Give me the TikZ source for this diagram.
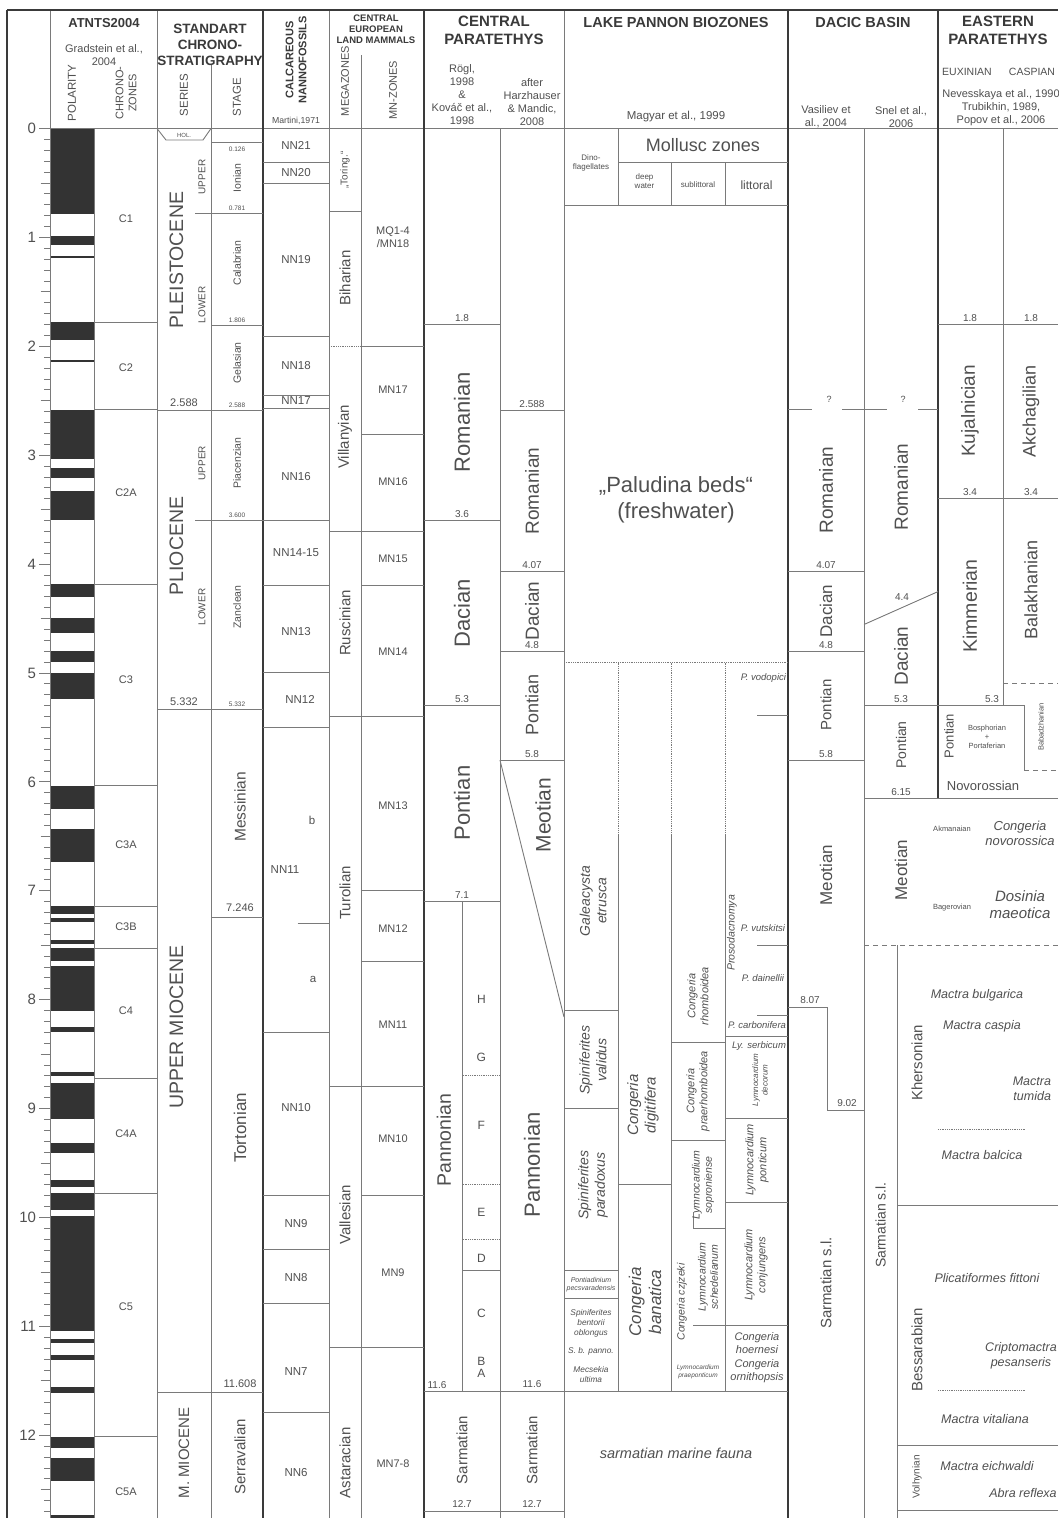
\documentclass[tikz,border=0pt]{standalone}
\usepackage{fontspec}
\setmainfont{Liberation Sans}
\definecolor{lc}{HTML}{7A7A7A}
\definecolor{tk}{HTML}{3A3A3A}
\definecolor{tc}{HTML}{505050}
\definecolor{bar}{HTML}{333333}
\newcommand\fs[1]{\fontsize{#1pt}{\fpeval{1.18*#1}pt}\selectfont}
\newcommand\Y[1]{128.5+108.9*#1}
\newcount\ndc
\begin{document}
\begin{tikzpicture}[x=1pt,y=-1pt,
 every node/.append style={/utils/exec={\global\advance\ndc by 1},name=n\the\ndc},
 ln/.style={draw=lc,line width=0.9pt},
 lnk/.style={draw=tk,line width=2.4pt},
 dotl/.style={draw=lc,line width=0.8pt,dash pattern=on 0.7pt off 1.1pt},
 dashl/.style={draw=lc,line width=1pt,dash pattern=on 5pt off 4pt},
 tx/.style={text=tc,inner sep=0pt,outer sep=0pt,align=center},
 fz/.style={tx,font=\fs{#1}},
 fzi/.style={tx,font=\fs{#1}\itshape},
 fzb/.style={tx,font=\fs{#1}\bfseries,text=tk},
 num/.style={fz=10,anchor=base},
 rot/.style={rotate=90}]
\useasboundingbox (0,0) rectangle (1058,1518);
\clip (0,0) rectangle (1058,1518);
\fill[white] (0,0) rectangle (1058,1518);

% ---------------- polarity
\foreach \a/\b in {0/0.781,0.988/1.072,1.173/1.185,1.778/1.945,2.128/2.148,2.581/3.032,3.116/3.207,3.330/3.596,4.187/4.300,4.493/4.631,4.799/4.896,4.997/5.235,6.033/6.252,6.436/6.733,7.140/7.212,7.251/7.285,7.454/7.489,7.528/7.642,7.695/8.108,8.254/8.300,8.661/8.699,8.769/9.098,9.312/9.409,9.656/9.717,9.779/9.934,9.987/11.040,11.118/11.154,11.263/11.308,11.554/11.614,12.014/12.116,12.207/12.415,12.730/12.765}
  \fill[bar] (50.7,\Y{\a}) rectangle (94,\Y{\b});

% ---------------- axis ticks
\foreach \k in {1,...,129} {\pgfmathsetmacro\yy{128.5+10.89*\k}\draw[ln] (44,\yy) -- (50.7,\yy);}
\foreach \h in {0.5,1.5,...,12.5} \draw[ln] (40.5,\Y{\h}) -- (50.7,\Y{\h});
\foreach \k in {0,...,12} {\draw[ln] (39,\Y{\k}) -- (50.7,\Y{\k});
  \node[fz=15,anchor=east] at (36,\Y{\k}) {\k};}

% ---------------- frame and columns
\draw[ln] (39,128.5) -- (1058,128.5);
\draw[ln] (50.7,10) -- (50.7,1518);
\draw[ln] (94,128.5) -- (94,1518);
\draw[ln] (157,10) -- (157,1518);
\draw[ln] (211,65) -- (211,1518);
\draw[ln] (329,10) -- (329,1518);
\draw[ln] (361,55) -- (361,1518);
\draw[ln] (462.7,\Y{7.1}) -- (462.7,\Y{11.6});
\draw[ln] (500,128.5) -- (500,1518);
\draw[ln] (564,10) -- (564,1518);
\draw[ln] (864,128.5) -- (864,1518);
\draw[draw=tk,line width=1.3pt] (938,10) -- (938,\Y{6.15});
\draw[ln] (1003,128.5) -- (1003,\Y{5.3});
\draw[ln] (897,945) -- (897,1518);
\draw[lnk] (263,10) -- (263,1518);
\draw[lnk] (424,10) -- (424,1518);
\draw[lnk] (788,10) -- (788,1518);
\draw[lnk] (7,10) -- (1058,10);
\draw[lnk] (7,10) -- (7,1518);

% ---------------- chronozones
\foreach \t in {1.778,2.581,4.187,6.033,7.140,7.528,8.72,9.779,12.014} \draw[ln] (94,\Y{\t}) -- (157,\Y{\t});
% ---------------- chronostratigraphy
\draw[ln] (157,128.5) -- (166,140) -- (203,140) -- (211,128.5);
\foreach \t in {2.588,5.332,11.608} \draw[ln] (157,\Y{\t}) -- (263,\Y{\t});
\foreach \t in {0.781,3.600} \draw[ln] (195,\Y{\t}) -- (263,\Y{\t});
\foreach \t in {0.126,1.806,7.246} \draw[ln] (211,\Y{\t}) -- (263,\Y{\t});
% ---------------- nannofossils
\foreach \y in {162,183.3,336,395,408,520,585,672.7,727,1032.3,1195,1249.3,1303.3,1412.3} \draw[ln] (263,\y) -- (329,\y);
\draw[ln] (297.7,923.3) -- (329,923.3);
% ---------------- mammals
\foreach \y in {211,531,716,1086,1347.3} \draw[ln] (329,\y) -- (361,\y);
\draw[dotl] (329,346.7) -- (361,346.7);
\foreach \y in {346.7,434,531,585.7,716,890.7,961,1086,1195,1347.3} \draw[ln] (361,\y) -- (424,\y);

% ---------------- central paratethys
\foreach \t in {1.8,3.6,5.3,7.1} \draw[ln] (424,\Y{\t}) -- (500,\Y{\t});
\foreach \t in {2.588,4.07,4.8,5.8} \draw[ln] (500,\Y{\t}) -- (564,\Y{\t});
\draw[ln] (424,\Y{11.6}) -- (788,\Y{11.6});
\draw[ln] (424,\Y{12.7}) -- (564,\Y{12.7});
\draw[ln] (500,\Y{5.8}) -- (564,1017);
\foreach \y in {1075,1184,1239} \draw[dotl] (462.7,\y) -- (500,\y);
\draw[ln] (462.7,1270.7) -- (500,1270.7);

% ---------------- lake pannon
\draw[ln] (618,128.5) -- (618,205.7);
\draw[ln] (618,162.3) -- (788,162.3);
\draw[ln] (671,162.3) -- (671,205.7);
\draw[ln] (725,162.3) -- (725,205.7);
\draw[ln] (564,205.7) -- (788,205.7);
\draw[dotl] (564,662.5) -- (788,662.5);
\foreach \x in {618,671,725} {\draw[dotl] (\x,662.5) -- (\x,835); \draw[ln] (\x,835) -- (\x,\Y{11.6});}
\foreach \y in {1010,1108.3,1270.7,1298.3} \draw[ln] (564,\y) -- (618,\y);
\draw[ln] (618,1184) -- (671,1184);
\draw[ln] (671,1042.3) -- (725,1042.3);
\draw[ln] (671,1140) -- (725,1140);
\draw[ln] (693,1212) -- (693,1228) -- (725,1228);
\draw[ln] (693,1325.7) -- (788,1325.7);
\foreach \y in {715.5,945,1015} \draw[ln] (757,\y) -- (788,\y);
\foreach \y in {1036,1118.3,1202.7} \draw[ln] (725,\y) -- (788,\y);

% ---------------- dacic basin
\draw[ln] (788,409.6) -- (812,409.6);
\draw[ln] (842,409.6) -- (887,409.6);
\draw[ln] (918,409.6) -- (938,409.6);
\foreach \t in {4.07,4.8,5.8} \draw[ln] (788,\Y{\t}) -- (864,\Y{\t});
\draw[ln] (788,\Y{8.07}) -- (827,\Y{8.07}) -- (827,\Y{9.02}) -- (864,\Y{9.02});
\draw[ln] (864,624.5) -- (938,591.6);
\draw[ln] (864,\Y{5.3}) -- (1024,\Y{5.3}) -- (1024,770);
\draw[dashl] (1024,770) -- (1058,770);
\draw[dashl] (1003,683.5) -- (1058,683.5);
\draw[ln] (864,\Y{6.15}) -- (1058,\Y{6.15});
\foreach \t in {1.8,3.4} \draw[ln] (938,\Y{\t}) -- (1058,\Y{\t});
\draw[dashl] (864,945) -- (1058,945);
\foreach \y in {1205,1445,1510} \draw[ln] (897,\y) -- (1058,\y);
\draw[dotl] (938,1129.3) -- (1025,1129.3);
\draw[dotl] (938,1390) -- (1025,1390);

% ================= HEADER TEXT
\node[fzb=13] at (104,23) {ATNTS2004};
\node[fz=11] at (104,55) {Gradstein et al.,\\2004};
\node[fz=11.5,rot] at (72,93) {POLARITY};
\node[fz=11,rot] at (126,93) {CHRONO-\\ZONES};
\node[fzb=13.5] at (210,45) {STANDART\\CHRONO-\\STRATIGRAPHY};
\node[fz=11.5,rot] at (184,95) {SERIES};
\node[fz=11.5,rot] at (237,97) {STAGE};
\node[fzb=11,rot] at (296,60) {CALCAREOUS\\NANNOFOSSILS};
\node[fz=8.7] at (296,121) {Martini,1971};
\node[fzb=9.5] at (376,29) {CENTRAL\\EUROPEAN\\LAND MAMMALS};
\node[fz=11,rot] at (345,81) {MEGAZONES};
\node[fz=11,rot] at (393,90) {MN-ZONES};
\node[fzb=15] at (494,30) {CENTRAL\\PARATETHYS};
\node[fz=11] at (462,95) {Rögl,\\1998\\\&\\Kováč et al.,\\1998};
\node[fz=11] at (532,102.5) {after\\Harzhauser\\\& Mandic,\\2008};
\node[fzb=14.5] at (676,23) {LAKE PANNON BIOZONES};
\node[fz=11.5] at (676,117) {Magyar et al., 1999};
\node[fzb=14.5] at (863,23) {DACIC BASIN};
\node[fz=11] at (826,117) {Vasiliev et\\al., 2004};
\node[fz=11] at (901,117) {Snel et al.,\\2006};
\node[fzb=15] at (998,30) {EASTERN\\PARATETHYS};
\node[fz=10.5] at (967,72) {EUXINIAN};
\node[fz=10.5] at (1032,72) {CASPIAN};
\node[fz=11] at (1001,108) {Nevesskaya et al., 1990\\Trubikhin, 1989,\\Popov et al., 2006};

% ================= chronozones text
\foreach \y/\c in {219/C1,368/C2,493/C2A,680/C3,845/C3A,927/C3B,1011/C4,1134/C4A,1307/C5,1492/C5A}
  \node[fz=11] at (126,\y) {\c};

% ================= series / stage text
\node[fz=6] at (184,135) {HOL.};
\node[fz=6.5] at (237,149) {0.126};
\node[fz=10.5,rot] at (237,178) {Ionian};
\node[fz=10,rot] at (202,177) {UPPER};
\node[fz=19.5,rot] at (176.5,260) {PLEISTOCENE};
\node[fz=6.5,anchor=base] at (237,\Y{0.781}-3) {0.781};
\node[fz=10.5,rot] at (237,263) {Calabrian};
\node[fz=10,rot] at (202,305) {LOWER};
\node[fz=6.5,anchor=base] at (237,\Y{1.806}-3) {1.806};
\node[fz=10.5,rot] at (237,363) {Gelasian};
\node[fz=11,anchor=base] at (184,\Y{2.588}-4) {2.588};
\node[fz=6.5,anchor=base] at (237,\Y{2.588}-3) {2.588};
\node[fz=10,rot] at (202,463) {UPPER};
\node[fz=10.5,rot] at (237,463) {Piacenzian};
\node[fz=6.5,anchor=base] at (237,\Y{3.600}-3) {3.600};
\node[fz=19.5,rot] at (176.5,546) {PLIOCENE};
\node[fz=10,rot] at (202,607) {LOWER};
\node[fz=10.5,rot] at (237,607) {Zanclean};
\node[fz=11,anchor=base] at (184,\Y{5.332}-4) {5.332};
\node[fz=6.5,anchor=base] at (237,\Y{5.332}-3) {5.332};
\node[fz=15.5,rot] at (240,807) {Messinian};
\node[fz=11,anchor=base] at (240,\Y{7.246}-6) {7.246};
\node[fz=19.5,rot] at (176.5,1027) {UPPER MIOCENE};
\node[fz=17,rot] at (240,1128) {Tortonian};
\node[fz=11,anchor=base] at (240,\Y{11.608}-5) {11.608};
\node[fz=15,rot] at (184,1453) {M. MIOCENE};
\node[fz=15,rot] at (240,1457) {Serravalian};

% ================= nannofossils text
\foreach \y/\c in {145/NN21,173/NN20,260/NN19,366/NN18,401/NN17,477/NN16,553/NN14-15,632/NN13,1108/NN10,1224/NN9,1278/NN8,1372/NN7,1473/NN6}
  \node[fz=11.5] at (296,\y) {\c};
\node[fz=11.5] at (300,699) {NN12};
\node[fz=11.5] at (285,870) {NN11};
\node[fz=11.5] at (312,820) {b};
\node[fz=11.5] at (313,979) {a};

% ================= mammals text
\node[fz=10,rot] at (345,170) {„Toring.“};
\foreach \y/\c in {278/Biharian,437/Villanyian,623/Ruscinian,893/Turolian,1215/Vallesian,1463/Astaracian}
  \node[fz=15,rot] at (345,\y) {\c};
\node[fz=11] at (393,237.5) {MQ1-4\\/MN18};
\foreach \y/\c in {390/MN17,482/MN16,559/MN15,652/MN14,806/MN13,929/MN12,1025/MN11,1139/MN10,1273/MN9,1464/MN7-8}
  \node[fz=11] at (393,\y) {\c};

% ================= central paratethys text
\node[num] at (462,\Y{1.8}-3) {1.8};
\node[num] at (462,\Y{3.6}-3) {3.6};
\node[num] at (462,\Y{5.3}-3) {5.3};
\node[num] at (462,\Y{7.1}-3) {7.1};
\node[num] at (437,\Y{11.6}-3) {11.6};
\node[num] at (462,\Y{12.7}-4) {12.7};
\node[num] at (532,\Y{2.588}-3) {2.588};
\node[num] at (532,\Y{4.07}-3) {4.07};
\node[num] at (532,\Y{4.8}-3) {4.8};
\node[num] at (532,\Y{5.8}-3) {5.8};
\node[num] at (532,\Y{11.6}-4) {11.6};
\node[num] at (532,\Y{12.7}-4) {12.7};
\node[fz=22,rot] at (462,422) {Romanian};
\node[fz=22,rot] at (462,613) {Dacian};
\node[fz=22,rot] at (462,803) {Pontian};
\node[fz=19.5,rot] at (444,1140) {Pannonian};
\foreach \y/\c in {999/H,1057/G,1125/F,1212/E,1258/D,1313/C,1361/B,1373/A}
  \node[fz=12] at (481.4,\y) {\c};
\node[fz=15,rot] at (462,1450) {Sarmatian};
\node[fz=15,rot] at (532,1450) {Sarmatian};
\node[fz=19,rot] at (532,491) {Romanian};
\node[fz=19,rot] at (532,611) {Dacian};
\node[fz=18,rot] at (532,705) {Pontian};
\node[fz=21,rot] at (543,815) {Meotian};
\node[fz=22,rot] at (532,1165) {Pannonian};

% ================= lake pannon text
\node[fz=8] at (591,163) {Dino-\\flagellates};
\node[fz=18] at (703,145) {Mollusc zones};
\node[fz=8] at (644.5,181) {deep\\water};
\node[fz=8] at (698,185) {sublittoral};
\node[fz=12] at (756.5,185) {littoral};
\node[fz=22] at (676,500) {„Paludina beds“\\(freshwater)};
\node[fzi=14,rot] at (593,901) {Galeacysta\\etrusca};
\node[fzi=14,rot] at (593,1060) {Spiniferites\\validus};
\node[fzi=14,rot] at (593,1185) {Spiniferites\\paradoxus};
\node[fzi=7] at (591,1284.5) {Pontiadinium\\pecsvaradensis};
\node[fzi=8.3] at (591,1323.5) {Spiniferites\\bentorii\\oblongus};
\node[fzi=8.3] at (591,1351) {S. b. panno.};
\node[fzi=8.3] at (591,1374.5) {Mecsekia\\ultima};
\node[fzi=15,rot] at (643,1105) {Congeria\\digitifera};
\node[fzi=17,rot] at (645,1302) {Congeria\\banatica};
\node[fzi=11,rot] at (698,996) {Congeria\\rhomboidea};
\node[fzi=11,rot] at (698,1091) {Congeria\\praerhomboidea};
\node[fzi=10.5,rot] at (703,1185) {Lymnocardium\\soproniense};
\node[fzi=10.5,rot] at (682,1302) {Congeria czjzeki};
\node[fzi=10.5,rot] at (708,1277) {Lymnocardium\\schedelianum};
\node[fzi=6.5] at (698,1372) {Lymnocardium\\praeponticum};
\node[fzi=9.5,anchor=east] at (786,678) {P. vodopici};
\node[fzi=10.5,rot] at (732,933) {Prosodacnomya};
\node[fzi=9.5] at (763,928) {P. vutskitsi};
\node[fzi=9.5] at (763,978) {P. dainellii};
\node[fzi=9.5] at (757,1025) {P. carbonifera};
\node[fzi=9.5] at (759,1046) {Ly. serbicum};
\node[fzi=8,rot] at (760,1080) {Lymnocardium\\decorum};
\node[fzi=11,rot] at (757,1160) {Lymnocardium\\ponticum};
\node[fzi=11,rot] at (756,1265) {Lymnocardium\\conjungens};
\node[fzi=11] at (757,1343) {Congeria\\hoernesi};
\node[fzi=11] at (757,1371) {Congeria\\ornithopsis};
\node[fzi=14.5] at (676,1453) {sarmatian marine fauna};

% ================= dacic basin text
\node[fz=9] at (829,399) {?};
\node[fz=9] at (903,399) {?};
\node[fz=19,rot] at (826,490) {Romanian};
\node[num] at (826,\Y{4.07}-3) {4.07};
\node[fz=17,rot] at (826,611) {Dacian};
\node[num] at (826,\Y{4.8}-3) {4.8};
\node[fz=15,rot] at (826,705) {Pontian};
\node[num] at (826,\Y{5.8}-3) {5.8};
\node[fz=17,rot] at (826,875) {Meotian};
\node[num] at (810,\Y{8.07}-4) {8.07};
\node[num] at (847,\Y{9.02}-4) {9.02};
\node[fz=15,rot] at (826,1283) {Sarmatian s.l.};
\node[fz=19,rot] at (901,487) {Romanian};
\node[num] at (902,600) {4.4};
\node[fz=19,rot] at (901,656) {Dacian};
\node[num] at (901,\Y{5.3}-3) {5.3};
\node[fz=14,rot] at (901,745) {Pontian};
\node[num] at (901,\Y{6.15}-3) {6.15};
\node[fz=17,rot] at (901,870) {Meotian};
\node[fz=14,rot] at (880.5,1225) {Sarmatian s.l.};

% ================= eastern paratethys text
\node[num] at (970,\Y{1.8}-3) {1.8};
\node[num] at (1031,\Y{1.8}-3) {1.8};
\node[fz=19,rot] at (970,411) {Kujalnician};
\node[fz=18,rot] at (1031,411) {Akchagilian};
\node[num] at (970,\Y{3.4}-3) {3.4};
\node[num] at (1031,\Y{3.4}-3) {3.4};
\node[fz=19.5,rot] at (970,606) {Kimmerian};
\node[fz=18,rot] at (1031,590) {Balakhanian};
\node[num] at (992,\Y{5.3}-3) {5.3};
\node[fz=13,rot] at (949,736) {Pontian};
\node[fz=7.5] at (987,737) {Bosphorian\\+\\Portaferian};
\node[fz=7.5,rot] at (1041,727) {Babadzhanian};
\node[fz=13] at (983,786) {Novorossian};
\node[fz=7.5] at (952,829) {Akmanaian};
\node[fzi=13] at (1020,833.5) {Congeria\\novorossica};
\node[fz=7.5] at (952,908) {Bagerovian};
\node[fzi=15] at (1020,904.5) {Dosinia\\maeotica};
\node[fz=15,rot] at (917,1063) {Khersonian};
\node[fzi=12.5] at (977,995) {Mactra bulgarica};
\node[fzi=12.5] at (982,1026) {Mactra caspia};
\node[fzi=12.5,anchor=east,align=right] at (1051,1089) {Mactra\\tumida};
\node[fzi=12.5] at (982,1155) {Mactra balcica};
\node[fz=15,rot] at (917,1350) {Bessarabian};
\node[fzi=12.5] at (987,1278) {Plicatiformes fittoni};
\node[fzi=12.5] at (1021,1355.5) {Criptomactra\\pesanseris};
\node[fzi=12.5] at (985,1419) {Mactra vitaliana};
\node[fz=10,rot] at (917,1477) {Volhynian};
\node[fzi=12.5] at (987,1466) {Mactra eichwaldi};
\node[fzi=12.5] at (1023,1493) {Abra reflexa};
\end{tikzpicture}
\end{document}
